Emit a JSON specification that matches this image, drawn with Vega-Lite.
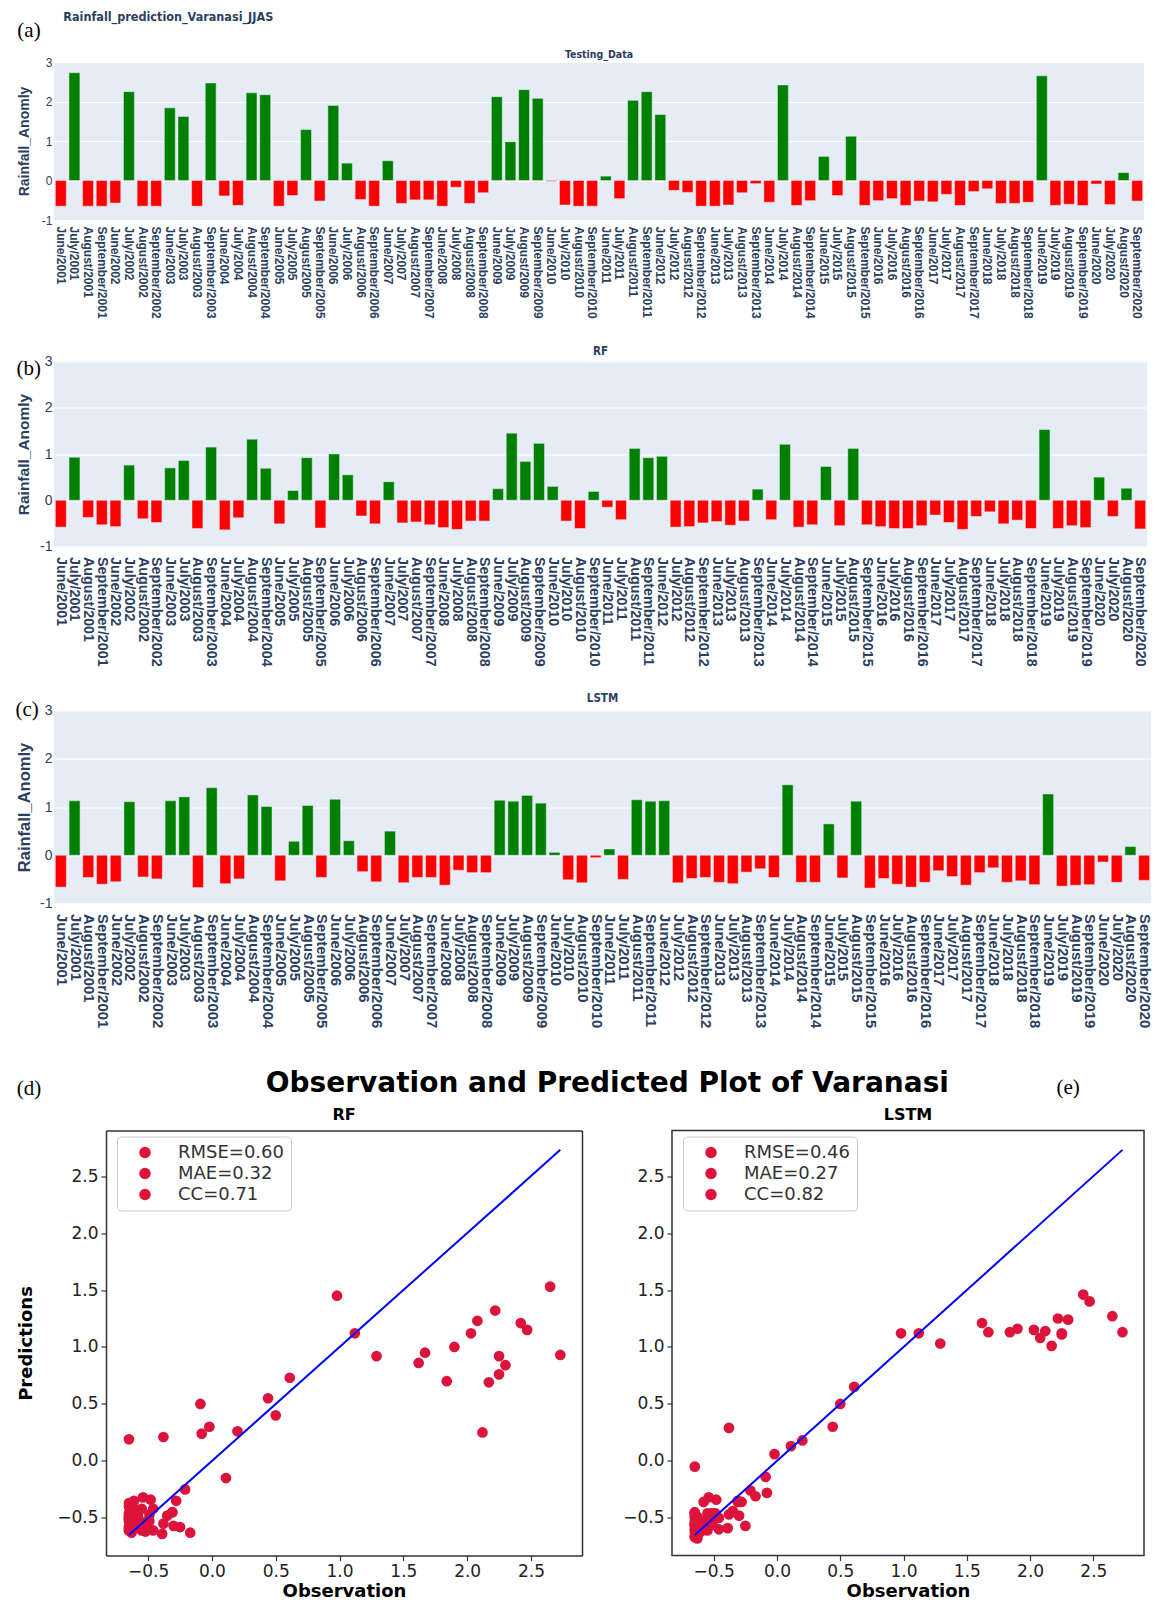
{
  "$schema": "https://vega.github.io/schema/vega-lite/v6.json",
  "background": "white",
  "padding": {"left": 15, "top": 10, "right": 0, "bottom": 0},
  "datasets": {
    "d": [
      {"month": "June/2001", "obs": -0.65, "rf": -0.58, "lstm": -0.66},
      {"month": "July/2001", "obs": 2.73, "rf": 0.93, "lstm": 1.13},
      {"month": "August/2001", "obs": -0.65, "rf": -0.37, "lstm": -0.46},
      {"month": "September/2001", "obs": -0.65, "rf": -0.53, "lstm": -0.6},
      {"month": "June/2002", "obs": -0.57, "rf": -0.57, "lstm": -0.55},
      {"month": "July/2002", "obs": 2.25, "rf": 0.76, "lstm": 1.11},
      {"month": "August/2002", "obs": -0.65, "rf": -0.4, "lstm": -0.45},
      {"month": "September/2002", "obs": -0.65, "rf": -0.48, "lstm": -0.49},
      {"month": "June/2003", "obs": 1.84, "rf": 0.7, "lstm": 1.13},
      {"month": "July/2003", "obs": 1.62, "rf": 0.86, "lstm": 1.21},
      {"month": "August/2003", "obs": -0.65, "rf": -0.61, "lstm": -0.67},
      {"month": "September/2003", "obs": 2.47, "rf": 1.15, "lstm": 1.4},
      {"month": "June/2004", "obs": -0.39, "rf": -0.64, "lstm": -0.59},
      {"month": "July/2004", "obs": -0.63, "rf": -0.38, "lstm": -0.49},
      {"month": "August/2004", "obs": 2.22, "rf": 1.32, "lstm": 1.25},
      {"month": "September/2004", "obs": 2.17, "rf": 0.69, "lstm": 1.01},
      {"month": "June/2005", "obs": -0.65, "rf": -0.51, "lstm": -0.53},
      {"month": "July/2005", "obs": -0.38, "rf": 0.21, "lstm": 0.29},
      {"month": "August/2005", "obs": 1.29, "rf": 0.92, "lstm": 1.03},
      {"month": "September/2005", "obs": -0.52, "rf": -0.6, "lstm": -0.46},
      {"month": "June/2006", "obs": 1.9, "rf": 1.0, "lstm": 1.16},
      {"month": "July/2006", "obs": 0.44, "rf": 0.55, "lstm": 0.3},
      {"month": "August/2006", "obs": -0.48, "rf": -0.34, "lstm": -0.34},
      {"month": "September/2006", "obs": -0.65, "rf": -0.51, "lstm": -0.55},
      {"month": "June/2007", "obs": 0.5, "rf": 0.4, "lstm": 0.5},
      {"month": "July/2007", "obs": -0.58, "rf": -0.49, "lstm": -0.57},
      {"month": "August/2007", "obs": -0.49, "rf": -0.47, "lstm": -0.46},
      {"month": "September/2007", "obs": -0.49, "rf": -0.53, "lstm": -0.46},
      {"month": "June/2008", "obs": -0.65, "rf": -0.59, "lstm": -0.62},
      {"month": "July/2008", "obs": -0.17, "rf": -0.63, "lstm": -0.31},
      {"month": "August/2008", "obs": -0.58, "rf": -0.45, "lstm": -0.36},
      {"month": "September/2008", "obs": -0.31, "rf": -0.45, "lstm": -0.36},
      {"month": "June/2009", "obs": 2.12, "rf": 0.25, "lstm": 1.14},
      {"month": "July/2009", "obs": 0.98, "rf": 1.45, "lstm": 1.12},
      {"month": "August/2009", "obs": 2.3, "rf": 0.84, "lstm": 1.24},
      {"month": "September/2009", "obs": 2.08, "rf": 1.23, "lstm": 1.08},
      {"month": "June/2010", "obs": -0.02, "rf": 0.3, "lstm": 0.06},
      {"month": "July/2010", "obs": -0.62, "rf": -0.45, "lstm": -0.51},
      {"month": "August/2010", "obs": -0.65, "rf": -0.61, "lstm": -0.57},
      {"month": "September/2010", "obs": -0.65, "rf": 0.19, "lstm": -0.05},
      {"month": "June/2011", "obs": 0.11, "rf": -0.15, "lstm": 0.13},
      {"month": "July/2011", "obs": -0.46, "rf": -0.42, "lstm": -0.5},
      {"month": "August/2011", "obs": 2.03, "rf": 1.12, "lstm": 1.15},
      {"month": "September/2011", "obs": 2.25, "rf": 0.92, "lstm": 1.12},
      {"month": "June/2012", "obs": 1.67, "rf": 0.95, "lstm": 1.13},
      {"month": "July/2012", "obs": -0.25, "rf": -0.58, "lstm": -0.57},
      {"month": "August/2012", "obs": -0.3, "rf": -0.57, "lstm": -0.48},
      {"month": "September/2012", "obs": -0.65, "rf": -0.49, "lstm": -0.46},
      {"month": "June/2013", "obs": -0.65, "rf": -0.46, "lstm": -0.56},
      {"month": "July/2013", "obs": -0.62, "rf": -0.54, "lstm": -0.59},
      {"month": "August/2013", "obs": -0.31, "rf": -0.45, "lstm": -0.35},
      {"month": "September/2013", "obs": -0.08, "rf": 0.24, "lstm": -0.28},
      {"month": "June/2014", "obs": -0.55, "rf": -0.42, "lstm": -0.46},
      {"month": "July/2014", "obs": 2.42, "rf": 1.21, "lstm": 1.46},
      {"month": "August/2014", "obs": -0.63, "rf": -0.58, "lstm": -0.56},
      {"month": "September/2014", "obs": -0.51, "rf": -0.53, "lstm": -0.56},
      {"month": "June/2015", "obs": 0.61, "rf": 0.73, "lstm": 0.65},
      {"month": "July/2015", "obs": -0.38, "rf": -0.55, "lstm": -0.47},
      {"month": "August/2015", "obs": 1.12, "rf": 1.12, "lstm": 1.12},
      {"month": "September/2015", "obs": -0.63, "rf": -0.53, "lstm": -0.68},
      {"month": "June/2016", "obs": -0.51, "rf": -0.57, "lstm": -0.48},
      {"month": "July/2016", "obs": -0.46, "rf": -0.61, "lstm": -0.6},
      {"month": "August/2016", "obs": -0.63, "rf": -0.61, "lstm": -0.66},
      {"month": "September/2016", "obs": -0.52, "rf": -0.55, "lstm": -0.56},
      {"month": "June/2017", "obs": -0.54, "rf": -0.32, "lstm": -0.32},
      {"month": "July/2017", "obs": -0.35, "rf": -0.48, "lstm": -0.44},
      {"month": "August/2017", "obs": -0.63, "rf": -0.63, "lstm": -0.62},
      {"month": "September/2017", "obs": -0.28, "rf": -0.35, "lstm": -0.36},
      {"month": "June/2018", "obs": -0.21, "rf": -0.25, "lstm": -0.26},
      {"month": "July/2018", "obs": -0.58, "rf": -0.51, "lstm": -0.56},
      {"month": "August/2018", "obs": -0.58, "rf": -0.43, "lstm": -0.53},
      {"month": "September/2018", "obs": -0.55, "rf": -0.61, "lstm": -0.61},
      {"month": "June/2019", "obs": 2.65, "rf": 1.53, "lstm": 1.27},
      {"month": "July/2019", "obs": -0.63, "rf": -0.61, "lstm": -0.64},
      {"month": "August/2019", "obs": -0.6, "rf": -0.55, "lstm": -0.62},
      {"month": "September/2019", "obs": -0.63, "rf": -0.59, "lstm": -0.61},
      {"month": "June/2020", "obs": -0.09, "rf": 0.5, "lstm": -0.14},
      {"month": "July/2020", "obs": -0.61, "rf": -0.35, "lstm": -0.56},
      {"month": "August/2020", "obs": 0.2, "rf": 0.26, "lstm": 0.18},
      {"month": "September/2020", "obs": -0.52, "rf": -0.62, "lstm": -0.52}
    ],
    "diag": [{"v": -0.65}, {"v": 2.73}]
  },
  "spacing": 26.5,
  "vconcat": [
    {
      "title": {"text": "Rainfall_prediction_Varanasi_JJAS", "anchor": "start", "frame": "bounds", "dx": 46, "offset": -3, "font": "DejaVu Sans Condensed, Liberation Sans Narrow, sans-serif", "fontSize": 12.5, "fontWeight": "bold", "color": "#2a3f5f"},
      "vconcat": [
        {
          "title": {"text": "(a)", "anchor": "start", "frame": "bounds", "offset": 9, "font": "Liberation Serif", "fontSize": 21, "fontWeight": "normal", "color": "black"},
          "vconcat": [
            {
              "title": {"text": "Testing_Data", "anchor": "middle", "frame": "group", "offset": -4.5, "font": "DejaVu Sans Condensed, Liberation Sans Narrow, sans-serif", "fontSize": 10.5, "fontWeight": "bold", "color": "#2a3f5f"},
              "width": 1090,
              "height": 158,
              "view": {"fill": "#E5ECF6", "stroke": null},
              "data": {"name": "d"},
              "mark": {"type": "bar", "stroke": "#E5ECF6", "strokeWidth": 0.5},
              "encoding": {
                "x": {"field": "month", "type": "nominal", "sort": null, "scale": {"paddingInner": 0.2, "paddingOuter": 0.1},
                  "axis": {"title": null, "labelAngle": 90, "labelAlign": "left", "labelBaseline": "middle", "labelPadding": 6, "labelFont": "Liberation Sans", "labelFontSize": 12, "labelFontWeight": "bold", "labelColor": "#2a3f5f", "labelOverlap": false, "labelBound": false, "ticks": false, "domain": false, "grid": false}},
                "y": {"field": "obs", "type": "quantitative", "scale": {"domain": [-1, 3], "nice": false},
                  "axis": {"title": "Rainfall_Anomly", "values": [-1, 0, 1, 2, 3], "labelExpr": "'' + datum.value", "grid": true, "gridColor": "white", "gridWidth": 1, "domain": false, "ticks": false, "labelPadding": 2, "labelFont": "Liberation Sans", "labelFontSize": 12, "labelColor": "#2a3f5f", "titleFont": "Liberation Sans", "titleFontSize": 14, "titleFontWeight": "bold", "titleColor": "#2a3f5f", "titlePadding": 10}},
                "color": {"condition": {"test": "datum.obs >= 0", "value": "#008000"}, "value": "#ff0000"}
              }
            }
          ]
        }
      ]
    },
    {
      "spacing": 26,
      "vconcat": [
        {
          "title": {"text": "(b)", "anchor": "start", "frame": "bounds", "dx": 0, "offset": -33, "font": "Liberation Serif", "fontSize": 21, "fontWeight": "normal", "color": "black"},
          "vconcat": [
            {
              "title": {"text": "RF", "anchor": "middle", "frame": "group", "offset": -3, "font": "DejaVu Sans Condensed, Liberation Sans Narrow, sans-serif", "fontSize": 11.5, "fontWeight": "bold", "color": "#2a3f5f"},
              "width": 1093,
              "height": 185,
              "view": {"fill": "#E5ECF6", "stroke": null},
              "data": {"name": "d"},
              "mark": {"type": "bar", "stroke": "#E5ECF6", "strokeWidth": 0.5},
              "encoding": {
                "x": {"field": "month", "type": "nominal", "sort": null, "scale": {"paddingInner": 0.2, "paddingOuter": 0.1},
                  "axis": {"title": null, "labelAngle": 90, "labelAlign": "left", "labelBaseline": "middle", "labelPadding": 10, "labelFont": "Liberation Sans", "labelFontSize": 14.3, "labelFontWeight": "bold", "labelColor": "#2a3f5f", "labelOverlap": false, "labelBound": false, "ticks": false, "domain": false, "grid": false}},
                "y": {"field": "rf", "type": "quantitative", "scale": {"domain": [-1, 3], "nice": false},
                  "axis": {"title": "Rainfall_Anomly", "values": [-1, 0, 1, 2, 3], "labelExpr": "'' + datum.value", "grid": true, "gridColor": "white", "gridWidth": 1, "domain": false, "ticks": false, "labelPadding": 2, "labelFont": "Liberation Sans", "labelFontSize": 14, "labelColor": "#2a3f5f", "titleFont": "Liberation Sans", "titleFontSize": 15.5, "titleFontWeight": "bold", "titleColor": "#2a3f5f", "titlePadding": 8}},
                "color": {"condition": {"test": "datum.rf >= 0", "value": "#008000"}, "value": "#ff0000"}
              }
            }
          ]
        },
        {
          "spacing": 41,
          "vconcat": [
            {
              "title": {"text": "(c)", "anchor": "start", "frame": "bounds", "dx": -1, "offset": -27, "font": "Liberation Serif", "fontSize": 21, "fontWeight": "normal", "color": "black"},
              "vconcat": [
                {
                  "title": {"text": "LSTM", "anchor": "middle", "frame": "group", "offset": -1, "font": "DejaVu Sans Condensed, Liberation Sans Narrow, sans-serif", "fontSize": 11.5, "fontWeight": "bold", "color": "#2a3f5f"},
                  "width": 1097,
                  "height": 193,
                  "view": {"fill": "#E5ECF6", "stroke": null},
                  "data": {"name": "d"},
                  "mark": {"type": "bar", "stroke": "#E5ECF6", "strokeWidth": 0.5},
                  "encoding": {
                    "x": {"field": "month", "type": "nominal", "sort": null, "scale": {"paddingInner": 0.2, "paddingOuter": 0.1},
                      "axis": {"title": null, "labelAngle": 90, "labelAlign": "left", "labelBaseline": "middle", "labelPadding": 10, "labelFont": "Liberation Sans", "labelFontSize": 14.9, "labelFontWeight": "bold", "labelColor": "#2a3f5f", "labelOverlap": false, "labelBound": false, "ticks": false, "domain": false, "grid": false}},
                    "y": {"field": "lstm", "type": "quantitative", "scale": {"domain": [-1, 3], "nice": false},
                      "axis": {"title": "Rainfall_Anomly", "values": [-1, 0, 1, 2, 3], "labelExpr": "'' + datum.value", "grid": true, "gridColor": "white", "gridWidth": 1, "domain": false, "ticks": false, "labelPadding": 2, "labelFont": "Liberation Sans", "labelFontSize": 14, "labelColor": "#2a3f5f", "titleFont": "Liberation Sans", "titleFontSize": 16.5, "titleFontWeight": "bold", "titleColor": "#2a3f5f", "titlePadding": 7}},
                    "color": {"condition": {"test": "datum.lstm >= 0", "value": "#008000"}, "value": "#ff0000"}
                  }
                }
              ]
            },
            {
              "title": {"text": "Observation and Predicted Plot of Varanasi", "anchor": "start", "frame": "bounds", "dx": 249, "offset": -21, "font": "DejaVu Sans", "fontSize": 28, "fontWeight": "bold", "color": "black"},
              "spacing": 39,
              "resolve": {"scale": {"color": "independent", "x": "independent", "y": "independent"}, "legend": {"color": "independent"}},
              "hconcat": [
                {
                  "title": {"text": "(d)", "anchor": "start", "frame": "bounds", "dx": -1, "offset": 8, "font": "Liberation Serif", "fontSize": 21, "fontWeight": "normal", "color": "black"},
                  "vconcat": [
                    {
                      "title": {"text": "RF", "anchor": "middle", "frame": "group", "dx": 26, "offset": 8, "font": "DejaVu Sans", "fontSize": 16, "fontWeight": "bold", "color": "black"},
                      "width": 528,
                      "height": 425,
                      "view": {"fill": "white", "stroke": null},
                      "resolve": {"axis": {"x": "independent", "y": "independent"}},
                      "layer": [
                        {
                          "data": {"name": "d"},
                          "mark": {"type": "circle", "size": 115, "opacity": 1},
                          "encoding": {
                            "x": {"field": "obs", "type": "quantitative", "title": "Observation", "scale": {"domain": [-0.83, 2.9], "range": [52, 528], "nice": false, "zero": false},
                              "axis": {"orient": "bottom", "values": [-0.5, 0, 0.5, 1, 1.5, 2, 2.5], "format": ".1f", "grid": false, "domain": true, "domainColor": "#333333", "domainWidth": 1.5, "tickColor": "#333333", "tickSize": 5, "tickWidth": 1.2, "labelFlush": false, "labelFont": "DejaVu Sans", "labelFontSize": 17, "labelColor": "#222222", "labelPadding": 3, "titleFont": "DejaVu Sans", "titleFontSize": 18, "titleFontWeight": "bold", "titleColor": "black", "titlePadding": 3}},
                            "y": {"field": "rf", "type": "quantitative", "title": "Predictions", "scale": {"domain": [-0.83, 2.9], "nice": false, "zero": false},
                              "axis": {"orient": "left", "offset": -52, "values": [-0.5, 0, 0.5, 1, 1.5, 2, 2.5], "format": ".1f", "grid": false, "domain": true, "domainColor": "#333333", "domainWidth": 1.5, "tickColor": "#333333", "tickSize": 5, "tickWidth": 1.2, "labelFlush": false, "labelFont": "DejaVu Sans", "labelFontSize": 17, "labelColor": "#222222", "labelPadding": 3, "titleFont": "DejaVu Sans", "titleFontSize": 18, "titleFontWeight": "bold", "titleColor": "black", "titlePadding": 21}},
                            "color": {"datum": "RMSE=0.60", "type": "nominal",
                              "scale": {"domain": ["RMSE=0.60", "MAE=0.32", "CC=0.71"], "range": ["#DC143C", "#DC143C", "#DC143C"]},
                              "legend": {"title": null, "orient": "none", "legendX": 63, "legendY": 6, "padding": 7, "fillColor": "rgba(255,255,255,0.85)", "strokeColor": "#cccccc", "cornerRadius": 4, "symbolType": "circle", "symbolSize": 130, "symbolOffset": 12, "symbolStrokeWidth": 0, "labelOffset": 24, "labelFont": "DejaVu Sans", "labelFontSize": 18, "labelColor": "#333333", "rowPadding": 3, "labelLimit": 300}}
                          }
                        },
                        {
                          "data": {"name": "diag"},
                          "mark": {"type": "line", "color": "#0000ff", "strokeWidth": 2},
                          "encoding": {
                            "x": {"field": "v", "type": "quantitative", "axis": {"orient": "top", "title": null, "labels": false, "ticks": false, "grid": false, "domain": true, "domainColor": "#333333", "domainWidth": 1.5}},
                            "y": {"field": "v", "type": "quantitative", "axis": {"orient": "right", "title": null, "labels": false, "ticks": false, "grid": false, "domain": true, "domainColor": "#333333", "domainWidth": 1.5}}
                          }
                        }
                      ]
                    }
                  ]
                },
                {
                  "title": {"text": "(e)", "anchor": "end", "frame": "bounds", "dx": -65, "offset": 8, "font": "Liberation Serif", "fontSize": 21, "fontWeight": "normal", "color": "black"},
                  "vconcat": [
                    {
                      "title": {"text": "LSTM", "anchor": "middle", "frame": "group", "offset": 8, "font": "DejaVu Sans", "fontSize": 16, "fontWeight": "bold", "color": "black"},
                      "width": 472,
                      "height": 425,
                      "view": {"fill": "white", "stroke": "#333333", "strokeWidth": 1.5},
                      "layer": [
                        {
                          "data": {"name": "d"},
                          "mark": {"type": "circle", "size": 115, "opacity": 1},
                          "encoding": {
                            "x": {"field": "obs", "type": "quantitative", "title": "Observation", "scale": {"domain": [-0.83, 2.9], "nice": false, "zero": false},
                              "axis": {"values": [-0.5, 0, 0.5, 1, 1.5, 2, 2.5], "format": ".1f", "grid": false, "domain": false, "tickColor": "#333333", "tickSize": 5, "tickWidth": 1.2, "labelFlush": false, "labelFont": "DejaVu Sans", "labelFontSize": 17, "labelColor": "#222222", "labelPadding": 3, "titleFont": "DejaVu Sans", "titleFontSize": 18, "titleFontWeight": "bold", "titleColor": "black", "titlePadding": 3}},
                            "y": {"field": "lstm", "type": "quantitative", "title": null, "scale": {"domain": [-0.83, 2.9], "nice": false, "zero": false},
                              "axis": {"values": [-0.5, 0, 0.5, 1, 1.5, 2, 2.5], "format": ".1f", "grid": false, "domain": false, "tickColor": "#333333", "tickSize": 5, "tickWidth": 1.2, "labelFlush": false, "labelFont": "DejaVu Sans", "labelFontSize": 17, "labelColor": "#222222", "labelPadding": 3}},
                            "color": {"datum": "RMSE=0.46", "type": "nominal",
                              "scale": {"domain": ["RMSE=0.46", "MAE=0.27", "CC=0.82"], "range": ["#DC143C", "#DC143C", "#DC143C"]},
                              "legend": {"title": null, "orient": "none", "legendX": 11, "legendY": 6, "padding": 7, "fillColor": "rgba(255,255,255,0.85)", "strokeColor": "#cccccc", "cornerRadius": 4, "symbolType": "circle", "symbolSize": 130, "symbolOffset": 12, "symbolStrokeWidth": 0, "labelOffset": 24, "labelFont": "DejaVu Sans", "labelFontSize": 18, "labelColor": "#333333", "rowPadding": 3, "labelLimit": 300}}
                          }
                        },
                        {
                          "data": {"name": "diag"},
                          "mark": {"type": "line", "color": "#0000ff", "strokeWidth": 2},
                          "encoding": {
                            "x": {"field": "v", "type": "quantitative", "title": "Observation"},
                            "y": {"field": "v", "type": "quantitative", "title": null}
                          }
                        }
                      ]
                    }
                  ]
                }
              ]
            }
          ]
        }
      ]
    }
  ],
  "config": {
    "view": {"stroke": null}
  }
}
